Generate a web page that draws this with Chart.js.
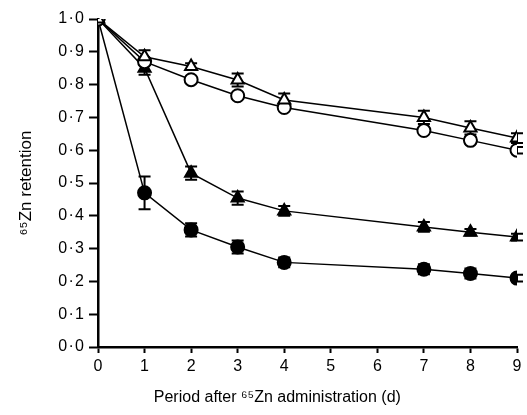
<!DOCTYPE html>
<html>
<head>
<meta charset="utf-8">
<script src="https://cdn.jsdelivr.net/npm/chart.js@4.4.0/dist/chart.umd.min.js"></script>
<style>
    html, body { margin: 0; padding: 0; background: #fff; }
    #wrap { width: 527px; height: 415px; }
</style>
</head>
<body>
<div id="wrap"><canvas id="myChart" width="527" height="415"></canvas></div>
<script>
var days = [0, 1, 2, 3, 4, 7, 8, 9];

// open triangles
var openTri = [1.0, 0.885, 0.855, 0.814, 0.753, 0.70, 0.668, 0.637];
var openTriErr = [0, 0.02, 0.01, 0.02, 0.02, 0.02, 0.02, 0.015];
// open circles
var openCirc = [1.0, 0.87, 0.815, 0.766, 0.73, 0.66, 0.63, 0.60];
var openCircErr = [0, 0.01, 0.01, 0.01, 0.01, 0.01, 0.01, 0.01];
// filled triangles
var fillTri = [1.0, 0.85, 0.53, 0.454, 0.415, 0.366, 0.35, 0.335];
var fillTriErr = [0, 0.02, 0.02, 0.02, 0.015, 0.015, 0.01, 0.01];
// filled circles
var fillCirc = [1.0, 0.47, 0.357, 0.305, 0.258, 0.237, 0.224, 0.21];
var fillCircErr = [0, 0.05, 0.02, 0.02, 0.015, 0.015, 0.015, 0.01];

var yTicks = [0, 0.1, 0.2, 0.3, 0.4, 0.5, 0.6, 0.7, 0.8, 0.9, 1.0];
var xTitle = 'Period after \u2076\u2075Zn administration (d)';
var yTitle = '\u2076\u2075Zn retention';

function toPoints(values) {
    return days.map(function (d, i) {
        return { x: d, y: values[i] };
    });
}

function makeSet(label, values, errs, style, fill) {
    return {
        label: label,
        data: toPoints(values),
        errors: errs,
        borderColor: '#000',
        borderWidth: 1.5,
        pointStyle: style,
        pointRadius: style == 'triangle' ? 7 : 6.5,
        pointBorderWidth: 2,
        pointBorderColor: '#000',
        pointBackgroundColor: fill,
        tension: 0,
        fill: false
    };
}

// draw error bars with caps behind the markers
var errorBars = {
    id: 'errorBars',
    beforeDatasetsDraw: function (chart) {
        var ctx = chart.ctx;
        var xs = chart.scales.x, ys = chart.scales.y;
        ctx.save();
        ctx.strokeStyle = '#000';
        ctx.lineWidth = 2;
        chart.data.datasets.forEach(function (ds) {
            ds.data.forEach(function (p, i) {
                var e = ds.errors[i];
                if (!e) return;
                var px = xs.getPixelForValue(p.x);
                var top = ys.getPixelForValue(p.y + e);
                var bot = ys.getPixelForValue(p.y - e);
                ctx.beginPath();
                ctx.moveTo(px, top);
                ctx.lineTo(px, bot);
                ctx.moveTo(px - 6, top);
                ctx.lineTo(px + 6, top);
                ctx.moveTo(px - 6, bot);
                ctx.lineTo(px + 6, bot);
                ctx.stroke();
            });
        });
        ctx.restore();
    }
};

var fontFamily = '"Liberation Sans", Arial, sans-serif';

// x title sits a bit left of the axis centre in the original
var xTitlePlugin = {
    id: 'xTitlePlugin',
    afterDraw: function (chart) {
        var ctx = chart.ctx;
        var area = chart.chartArea;
        ctx.save();
        ctx.fillStyle = '#000';
        ctx.font = '16px ' + fontFamily;
        ctx.textAlign = 'center';
        ctx.textBaseline = 'middle';
        ctx.fillText(xTitle, area.left + (area.right - area.left) * 0.428, chart.height - 17);
        ctx.restore();
    }
};

var chart = new Chart(document.getElementById('myChart').getContext('2d'), {
    type: 'line',
    data: {
        datasets: [
            makeSet('open triangle', openTri, openTriErr, 'triangle', '#fff'),
            makeSet('open circle', openCirc, openCircErr, 'circle', '#fff'),
            makeSet('filled triangle', fillTri, fillTriErr, 'triangle', '#000'),
            makeSet('filled circle', fillCirc, fillCircErr, 'circle', '#000')
        ]
    },
    options: {
        responsive: false,
        animation: false,
        layout: { padding: { top: 19, right: 10, left: 0, bottom: 0 } },
        plugins: {
            legend: { display: false },
            tooltip: { enabled: false }
        },
        scales: {
            x: {
                type: 'linear',
                min: 0,
                max: 9,
                afterFit: function (scale) { scale.height = 68; },
                ticks: {
                    stepSize: 1,
                    color: '#000',
                    font: { family: fontFamily, size: 16 },
                    padding: 4
                },
                grid: {
                    drawOnChartArea: false,
                    drawTicks: true,
                    tickLength: 6,
                    tickWidth: 2,
                    color: '#000'
                },
                border: { color: '#000', width: 2.5 },
                title: { display: false }
            },
            y: {
                type: 'linear',
                min: 0,
                max: 1,
                afterFit: function (scale) { scale.width = 98; },
                afterBuildTicks: function (scale) {
                    scale.ticks = yTicks.map(function (v) { return { value: v }; });
                },
                ticks: {
                    color: '#000',
                    font: { family: fontFamily, size: 16 },
                    padding: 5,
                    callback: function (v) { return v.toFixed(1).replace('.', '\u200A\u00B7\u200A'); }
                },
                grid: {
                    drawOnChartArea: false,
                    drawTicks: true,
                    tickLength: 9,
                    tickWidth: 2,
                    color: '#000'
                },
                border: { color: '#000', width: 2.5 },
                title: {
                    display: true,
                    text: yTitle,
                    color: '#000',
                    font: { family: fontFamily, size: 17 },
                    padding: { top: 16, bottom: 4 }
                }
            }
        }
    },
    plugins: [errorBars, xTitlePlugin]
});
</script>
</body>
</html>
